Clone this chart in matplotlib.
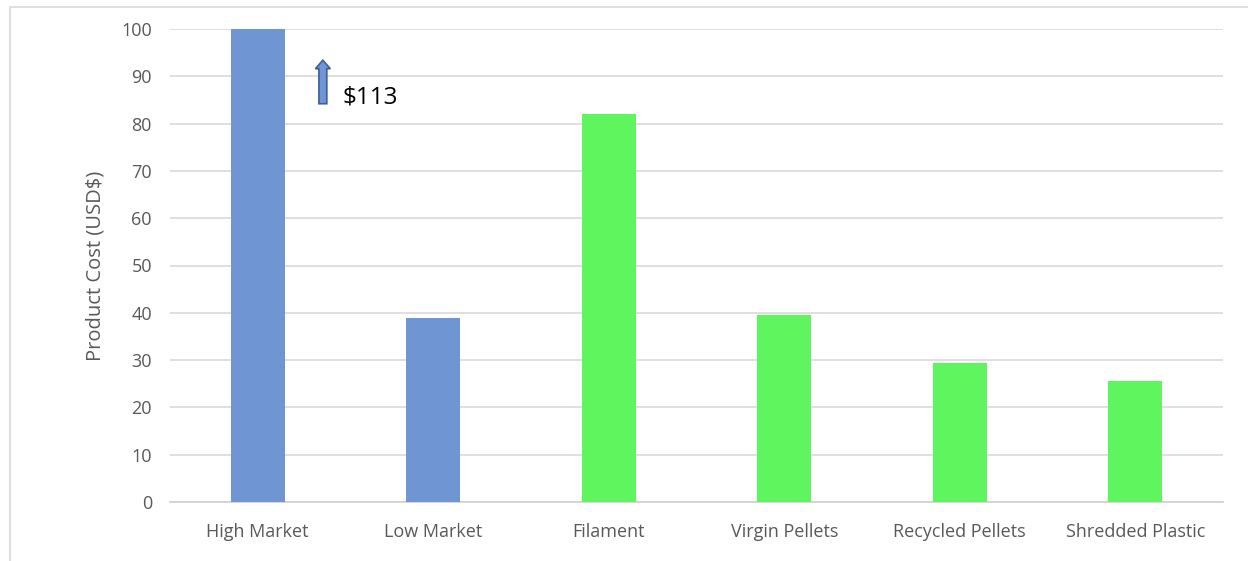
import matplotlib
matplotlib.use("Agg")
import matplotlib.pyplot as plt
from matplotlib.patches import FancyArrow, Rectangle

categories = ["High Market", "Low Market", "Filament", "Virgin Pellets",
              "Recycled Pellets", "Shredded Plastic"]
values = [100, 39, 82, 39.5, 29.4, 25.6]
bar_colors = ["#7095d3", "#7095d3", "#5ef55e", "#5ef55e", "#5ef55e", "#5ef55e"]
yticks = [0, 10, 20, 30, 40, 50, 60, 70, 80, 90, 100]
note_text = "$113"

plt.rcParams['font.family'] = ['Open Sans', 'DejaVu Sans']

fig = plt.figure(figsize=(12.48, 5.61), dpi=100)
W, H = 1248, 561
ax = fig.add_axes([170 / W, 1 - 502 / H, (1223 - 170) / W, (502 - 29) / H])

x = list(range(len(categories)))
ax.bar(x, values, width=0.31, color=bar_colors, zorder=3)
ax.set_xlim(-0.5, len(categories) - 0.5)
ax.set_ylim(0, 100)
ax.set_yticks(yticks)
ax.set_xticks(x)
ax.set_xticklabels(categories)
ax.tick_params(axis='both', length=0, colors="#595959", labelsize=13)
ax.tick_params(axis='y', pad=13)
ax.tick_params(axis='x', pad=15)
ax.yaxis.grid(True, color="#d9d9d9", linewidth=1.2, zorder=0)
for s in ["top", "right", "left"]:
    ax.spines[s].set_visible(False)
ax.spines["bottom"].set_color("#d0d0d0")
ax.spines["bottom"].set_linewidth(1.2)
ax.set_ylabel("Product Cost (USD$)", color="#595959", fontsize=14.5, labelpad=11)

# annotation arrow
arr = FancyArrow(0.371, 84.2, 0, 9.2, width=0.045, head_width=0.085,
                 head_length=1.8, length_includes_head=True,
                 facecolor="#7095d3", edgecolor="#3c5f9e", linewidth=1.2,
                 zorder=4, transform=ax.transData)
ax.add_patch(arr)
ax.text(0.482, 85.6, note_text, fontsize=17.5, color="black", va="center", ha="left")

# outer frame
fig.patches.append(Rectangle((10 / W, -0.01), 1.1, 1 - 7 / H + 0.01,
                             transform=fig.transFigure, fill=False,
                             edgecolor="#d9d9d9", linewidth=1.2))

fig.savefig("out.png", dpi=100)
